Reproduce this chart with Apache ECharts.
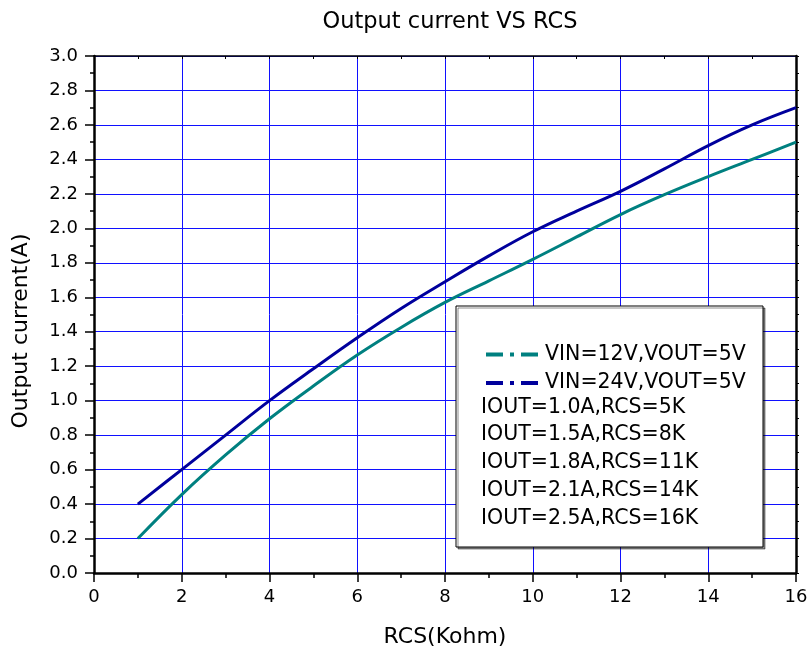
<!DOCTYPE html>
<html>
<head>
<meta charset="utf-8">
<script src="https://cdn.jsdelivr.net/npm/echarts@6/dist/echarts.min.js"></script>
<style>html,body{margin:0;padding:0;background:#fff}#c{width:811px;height:654px}</style>
</head>
<body>
<div id="c"></div>
<script>
const rcs = [1, 2, 3, 4, 5, 6, 7, 8, 9, 10, 11, 12, 13, 14, 15, 16];
const vin12 = [0.20, 0.455, 0.685, 0.895, 1.085, 1.265, 1.425, 1.57, 1.695, 1.82, 1.95, 2.08, 2.195, 2.30, 2.40, 2.50];
const vin24 = [0.40, 0.60, 0.80, 1.00, 1.185, 1.365, 1.535, 1.69, 1.84, 1.98, 2.10, 2.215, 2.345, 2.48, 2.60, 2.70];
const seriesNames = ['VIN=12V,VOUT=5V', 'VIN=24V,VOUT=5V'];
const noteLines = ['IOUT=1.0A,RCS=5K', 'IOUT=1.5A,RCS=8K', 'IOUT=1.8A,RCS=11K', 'IOUT=2.1A,RCS=14K', 'IOUT=2.5A,RCS=16K'];
const titleText = 'Output current VS RCS';
const xName = 'RCS(Kohm)';
const yName = 'Output current(A)';

const FONT = 'DejaVu Sans';
const chart = echarts.init(document.getElementById('c'));
const rowH = 27.7;
const row0 = 352;
const graphics = [
  {type: 'rect', z: 3, shape: {x: 456, y: 306, width: 307, height: 241},
   style: {fill: '#fff', stroke: '#000', lineWidth: 1, shadowColor: 'rgba(0,0,0,0.45)', shadowOffsetX: 2, shadowOffsetY: 2, shadowBlur: 0}},
  {type: 'text', z: 5, x: 21, y: 331, rotation: Math.PI / 2,
   style: {text: yName, fontFamily: FONT, fontSize: 22, fill: '#000', align: 'center', verticalAlign: 'middle'}}
];
noteLines.forEach((t, i) => {
  graphics.push({type: 'text', z: 5, x: 481, y: row0 + (i + 2) * rowH,
    style: {text: t, fontFamily: FONT, fontSize: 20.5, fill: '#000', align: 'left', verticalAlign: 'middle'}});
});

const dashDot = 'path://M0,0H17V4H0Z M24,0H28V4H24Z M35,0H52V4H35Z';
const gridColor = '#1010ff';
chart.setOption({
  animation: false,
  backgroundColor: '#fff',
  title: {text: titleText, left: 445, textAlign: 'center', top: 6,
    textStyle: {fontFamily: FONT, fontSize: 22.5, fontWeight: 'normal', color: '#000'}},
  grid: {left: 94, right: 15, top: 56, bottom: 81},
  legend: {
    orient: 'vertical', left: 481, top: row0 - 13, itemWidth: 52, itemHeight: 4, itemGap: 7.5, z: 5,
    data: seriesNames.map(n => ({name: n, icon: dashDot})),
    itemStyle: {borderWidth: 0},
    textStyle: {fontFamily: FONT, fontSize: 20.5, color: '#000', lineHeight: 20, padding: [0, 0, 0, 2]}
  },
  graphic: graphics,
  xAxis: [
    {type: 'value', min: 0, max: 16, interval: 2, position: 'bottom',
     name: xName, nameLocation: 'middle', nameGap: 53,
     nameTextStyle: {fontFamily: FONT, fontSize: 22, color: '#000'},
     axisLine: {show: true, onZero: false, lineStyle: {color: '#000', width: 2.5}},
     axisTick: {show: true, inside: false, length: 9, lineStyle: {color: '#000', width: 1.5}},
     minorTick: {show: true, splitNumber: 2, length: 5, lineStyle: {color: '#000', width: 1.5}},
     axisLabel: {margin: 15, fontFamily: FONT, fontSize: 18, color: '#000'},
     splitLine: {show: true, lineStyle: {color: gridColor, width: 1}}},
    {type: 'value', min: 0, max: 16, interval: 1, position: 'top',
     axisLine: {show: true, onZero: false, lineStyle: {color: '#000', width: 1.5}},
     axisTick: {show: true, inside: true, length: 3, lineStyle: {color: '#000', width: 1}},
     axisLabel: {show: false}, splitLine: {show: false}}
  ],
  yAxis: [
    {type: 'value', min: 0, max: 3, interval: 0.2, position: 'left',
     axisLine: {show: true, onZero: false, lineStyle: {color: '#000', width: 2.5}},
     axisTick: {show: true, inside: false, length: 9, lineStyle: {color: '#000', width: 1.5}},
     minorTick: {show: true, splitNumber: 2, length: 4, lineStyle: {color: '#000', width: 1.5}},
     axisLabel: {margin: 16, fontFamily: FONT, fontSize: 18, color: '#000', formatter: v => v.toFixed(1)},
     splitLine: {show: true, lineStyle: {color: gridColor, width: 1}}},
    {type: 'value', min: 0, max: 3, interval: 0.1, position: 'right',
     axisLine: {show: true, onZero: false, lineStyle: {color: '#000', width: 2.5}},
     axisTick: {show: true, inside: false, length: 3, lineStyle: {color: '#000', width: 1}},
     axisLabel: {show: false}, splitLine: {show: false}}
  ],
  series: [
    {name: seriesNames[0], type: 'line', smooth: 0.4, showSymbol: false, symbol: 'none', z: 2,
     color: '#008080', lineStyle: {color: '#008080', width: 3},
     data: rcs.map((x, i) => [x, vin12[i]])},
    {name: seriesNames[1], type: 'line', smooth: 0.4, showSymbol: false, symbol: 'none', z: 2,
     color: '#00009c', lineStyle: {color: '#00009c', width: 3},
     data: rcs.map((x, i) => [x, vin24[i]])}
  ]
});
</script>
</body>
</html>
